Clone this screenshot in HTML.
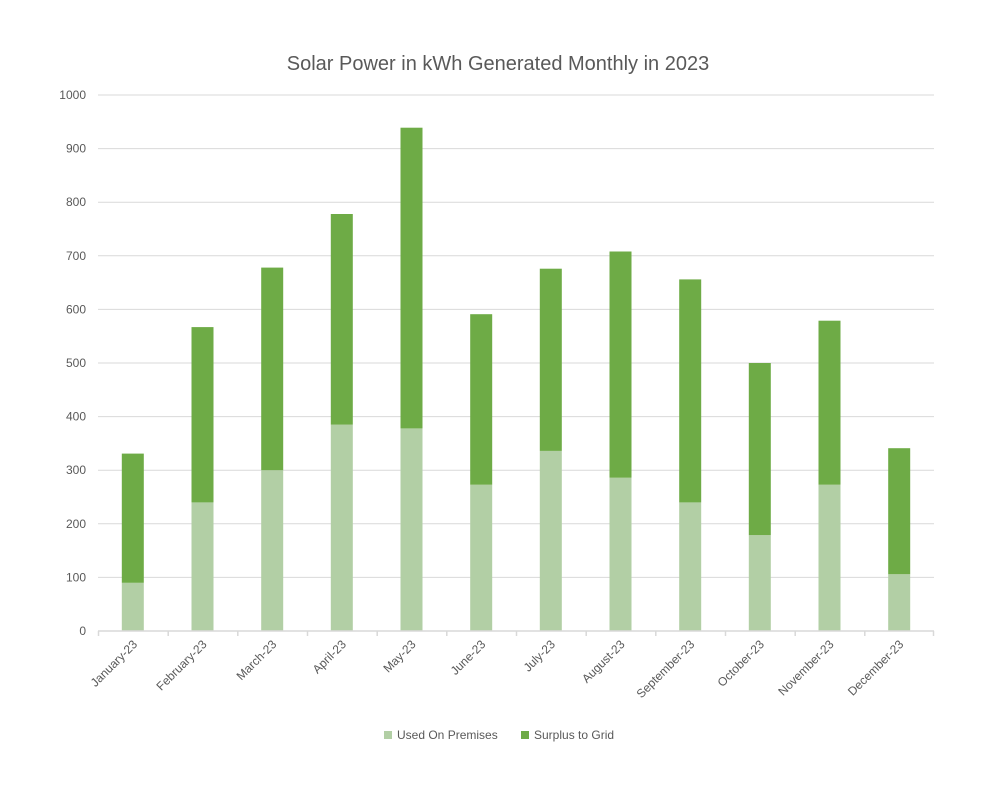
<!DOCTYPE html>
<html><head><meta charset="utf-8"><style>body{margin:0;background:#fff}svg{display:block;font-family:"Liberation Sans",sans-serif}</style></head><body>
<svg width="1000" height="797" viewBox="0 0 1000 797">
<rect width="1000" height="797" fill="#fff"/>
<text x="498" y="70" text-anchor="middle" font-size="20" fill="#595959">Solar Power in kWh Generated Monthly in 2023</text>
<g stroke="#d9d9d9" stroke-width="1">
<line x1="98" x2="934" y1="577.4" y2="577.4"/><line x1="98" x2="934" y1="523.8" y2="523.8"/><line x1="98" x2="934" y1="470.2" y2="470.2"/><line x1="98" x2="934" y1="416.6" y2="416.6"/><line x1="98" x2="934" y1="363" y2="363"/><line x1="98" x2="934" y1="309.4" y2="309.4"/><line x1="98" x2="934" y1="255.8" y2="255.8"/><line x1="98" x2="934" y1="202.2" y2="202.2"/><line x1="98" x2="934" y1="148.6" y2="148.6"/><line x1="98" x2="934" y1="95" y2="95"/>
</g>
<g font-size="12" fill="#595959" text-anchor="end">
<text x="86" y="635">0</text><text x="86" y="581.4">100</text><text x="86" y="527.8">200</text><text x="86" y="474.2">300</text><text x="86" y="420.6">400</text><text x="86" y="367">500</text><text x="86" y="313.4">600</text><text x="86" y="259.8">700</text><text x="86" y="206.2">800</text><text x="86" y="152.6">900</text><text x="86" y="99">1000</text>
</g>
<g fill="#b2cfa5">
<rect x="121.8" y="582.8" width="22" height="48.2"/>
<rect x="191.5" y="502.4" width="22" height="128.6"/>
<rect x="261.2" y="470.2" width="22" height="160.8"/>
<rect x="330.8" y="424.6" width="22" height="206.4"/>
<rect x="400.5" y="428.4" width="22" height="202.6"/>
<rect x="470.2" y="484.7" width="22" height="146.3"/>
<rect x="539.8" y="450.9" width="22" height="180.1"/>
<rect x="609.5" y="477.7" width="22" height="153.3"/>
<rect x="679.2" y="502.4" width="22" height="128.6"/>
<rect x="748.8" y="535.1" width="22" height="95.9"/>
<rect x="818.5" y="484.7" width="22" height="146.3"/>
<rect x="888.2" y="574.2" width="22" height="56.8"/>
</g>
<g fill="#6eab46">
<rect x="121.8" y="453.6" width="22" height="129.2"/>
<rect x="191.5" y="327.1" width="22" height="175.3"/>
<rect x="261.2" y="267.6" width="22" height="202.6"/>
<rect x="330.8" y="214.0" width="22" height="210.6"/>
<rect x="400.5" y="127.7" width="22" height="300.7"/>
<rect x="470.2" y="314.2" width="22" height="170.5"/>
<rect x="539.8" y="268.7" width="22" height="182.2"/>
<rect x="609.5" y="251.5" width="22" height="226.2"/>
<rect x="679.2" y="279.4" width="22" height="223"/>
<rect x="748.8" y="363.0" width="22" height="172.1"/>
<rect x="818.5" y="320.7" width="22" height="164"/>
<rect x="888.2" y="448.2" width="22" height="126"/>
</g>
<g stroke="#d9d9d9" stroke-width="1.5">
<line x1="98" x2="934" y1="631" y2="631"/>
<line x1="98.5" x2="98.5" y1="631" y2="636"/><line x1="168.2" x2="168.2" y1="631" y2="636"/><line x1="237.8" x2="237.8" y1="631" y2="636"/><line x1="307.5" x2="307.5" y1="631" y2="636"/><line x1="377.2" x2="377.2" y1="631" y2="636"/><line x1="446.8" x2="446.8" y1="631" y2="636"/><line x1="516.5" x2="516.5" y1="631" y2="636"/><line x1="586.2" x2="586.2" y1="631" y2="636"/><line x1="655.8" x2="655.8" y1="631" y2="636"/><line x1="725.5" x2="725.5" y1="631" y2="636"/><line x1="795.2" x2="795.2" y1="631" y2="636"/><line x1="864.8" x2="864.8" y1="631" y2="636"/><line x1="933.5" x2="933.5" y1="631" y2="636"/>
</g>
<g font-size="12" fill="#595959" text-anchor="end">
<text transform="translate(138,645) rotate(-45)">January-23</text>
<text transform="translate(207.5,645) rotate(-45)">February-23</text>
<text transform="translate(277.2,645) rotate(-45)">March-23</text>
<text transform="translate(346.8,645) rotate(-45)">April-23</text>
<text transform="translate(416.5,645) rotate(-45)">May-23</text>
<text transform="translate(486.2,645) rotate(-45)">June-23</text>
<text transform="translate(555.8,645) rotate(-45)">July-23</text>
<text transform="translate(625.5,645) rotate(-45)">August-23</text>
<text transform="translate(695.2,645) rotate(-45)">September-23</text>
<text transform="translate(764.8,645) rotate(-45)">October-23</text>
<text transform="translate(834.5,645) rotate(-45)">November-23</text>
<text transform="translate(904.2,645) rotate(-45)">December-23</text>
</g>
<rect x="384" y="731" width="8" height="8" fill="#b2cfa5"/>
<text x="397" y="739" font-size="12" fill="#595959">Used On Premises</text>
<rect x="521" y="731" width="8" height="8" fill="#6eab46"/>
<text x="534" y="739" font-size="12" fill="#595959">Surplus to Grid</text>
</svg>
</body></html>
